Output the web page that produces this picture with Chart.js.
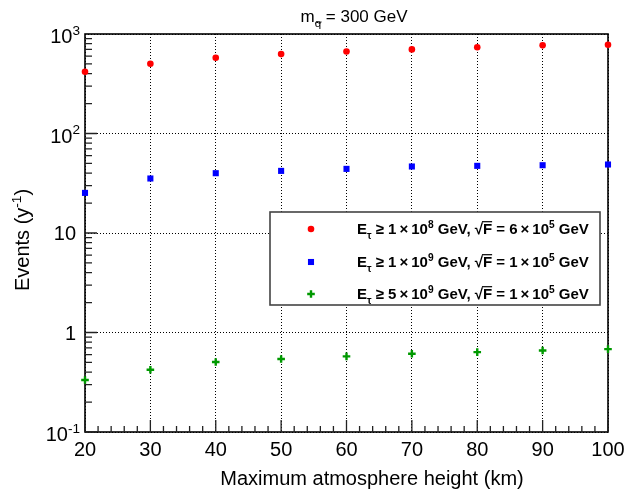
<!DOCTYPE html>
<html>
<head>
<meta charset="utf-8">
<script src="https://cdn.jsdelivr.net/npm/chart.js@4"></script>
<style>
  body { margin: 0; background: #fff; }
  canvas { display: block; }
</style>
</head>
<body>
<canvas id="myChart" width="626" height="491"></canvas>
<script>
    // maximum atmosphere height (km)
    const heights = [20, 30, 40, 50, 60, 70, 80, 90, 100];

    // events per year for each threshold
    const evtsE8 = [418, 502, 577, 628, 668, 700, 735, 769, 780];
    const evtsE9 = [25.3, 35.3, 39.9, 42.1, 44.1, 46.6, 47.3, 48.0, 48.8];
    const evts5E9 = [0.333, 0.423, 0.505, 0.541, 0.575, 0.611, 0.635, 0.660, 0.681];

    const xTicks = [20, 30, 40, 50, 60, 70, 80, 90, 100];
    // [value, mantissa text, exponent text]
    const yTicks = [[0.1, '10', '-1'], [1, '1', ''], [10, '10', ''], [100, '10', '2'], [1000, '10', '3']];

    const FONT = '"Liberation Sans", Arial, sans-serif';

    const series = [
        { label: 'E8', data: evtsE8, color: '#ff0000', style: 'circle', radius: 3.3, bw: 0 },
        { label: 'E9', data: evtsE9, color: '#0000ff', style: 'rect', radius: 4.3, bw: 0 },
        { label: '5E9', data: evts5E9, color: '#009900', style: 'cross', radius: 3.8, bw: 2.4 }
    ];

    const legendRows = [
        [['E', ''], ['\u03c4', 'sub'], [' \u2265 1\u2009\u00d7\u200910', ''], ['8', 'sup'], [' GeV, ', ''], ['F', 'root'], [' = 6\u2009\u00d7\u200910', ''], ['5', 'sup'], [' GeV', '']],
        [['E', ''], ['\u03c4', 'sub'], [' \u2265 1\u2009\u00d7\u200910', ''], ['9', 'sup'], [' GeV, ', ''], ['F', 'root'], [' = 1\u2009\u00d7\u200910', ''], ['5', 'sup'], [' GeV', '']],
        [['E', ''], ['\u03c4', 'sub'], [' \u2265 5\u2009\u00d7\u200910', ''], ['9', 'sup'], [' GeV, ', ''], ['F', 'root'], [' = 1\u2009\u00d7\u200910', ''], ['5', 'sup'], [' GeV', '']]
    ];

    // draw a run of text pieces with sub/superscripts; returns total width
    function richText(ctx, parts, x, y, size, weight, dryRun) {
        let cx = x;
        parts.forEach(([t, mode]) => {
            let fs = size, dy = 0;
            if (mode === 'sub') { fs = size * 0.68; dy = size * 0.3; }
            if (mode === 'sup') { fs = size * 0.68; dy = -size * 0.42; }
            ctx.font = `${weight} ${fs}px ${FONT}`;
            if (mode === 'root') {
                const rw = ctx.measureText('\u221a').width;
                const fw = ctx.measureText(t).width;
                if (!dryRun) {
                    ctx.fillText('\u221a', cx, y);
                    ctx.fillText(t, cx + rw, y);
                    ctx.save();
                    ctx.lineWidth = 1.2;
                    ctx.strokeStyle = ctx.fillStyle;
                    ctx.beginPath();
                    ctx.moveTo(cx + rw - 1, y - size * 0.82);
                    ctx.lineTo(cx + rw + fw, y - size * 0.82);
                    ctx.stroke();
                    ctx.restore();
                }
                cx += rw + fw;
                return;
            }
            if (!dryRun) ctx.fillText(t, cx, y + dy);
            cx += ctx.measureText(t).width;
        });
        return cx - x;
    }

    const framePlugin = {
        id: 'frame',
        beforeDatasetsDraw(chart) {
            const { ctx, chartArea: a } = chart;
            ctx.save();
            ctx.strokeStyle = '#000';
            ctx.lineWidth = 1.6;
            ctx.strokeRect(a.left, a.top, a.right - a.left, a.bottom - a.top);

            // tick marks on the left and bottom axes
            const ys = chart.scales.y;
            const xs = chart.scales.x;
            ctx.lineWidth = 1.3;
            ctx.strokeStyle = '#222';
            ctx.beginPath();
            for (let e = -1; e < 3; e++) {
                for (let m = 1; m <= 9; m++) {
                    const v = m * Math.pow(10, e);
                    const py = ys.getPixelForValue(v);
                    const len = m === 1 ? 12 : 7;
                    ctx.moveTo(a.left, py);
                    ctx.lineTo(a.left + len, py);
                }
            }
            for (let v = 20; v <= 100; v += 2) {
                const px = xs.getPixelForValue(v);
                const len = v % 10 === 0 ? 12 : 6;
                ctx.moveTo(px, a.bottom);
                ctx.lineTo(px, a.bottom - len);
            }
            ctx.stroke();
            ctx.restore();
        },
        afterDraw(chart) {
            const { ctx } = chart;
            const ys = chart.scales.y;
            const xs = chart.scales.x;
            ctx.save();
            ctx.fillStyle = '#000';
            ctx.strokeStyle = '#000';
            ctx.textBaseline = 'alphabetic';

            // y tick labels
            yTicks.forEach(([v, base, exp]) => {
                const py = ys.getPixelForValue(v);
                const parts = exp ? [[base, ''], [exp, 'sup']] : [[base, '']];
                const w = richText(ctx, parts, 0, 0, 20, 'normal', true);
                const right = exp ? 80 : 76;
                richText(ctx, parts, right - w, py + 7 + (exp ? 2 : 0), 20, 'normal', false);
            });

            // x tick labels
            ctx.font = `20px ${FONT}`;
            ctx.textAlign = 'center';
            xTicks.forEach(v => {
                ctx.fillText(String(v), xs.getPixelForValue(v), 456);
            });

            // axis titles
            ctx.fillText('Maximum atmosphere height (km)', 372, 485);
            ctx.save();
            ctx.translate(29, 240);
            ctx.rotate(-Math.PI / 2);
            ctx.textAlign = 'left';
            const yt = [['Events (y', ''], ['-1', 'sup'], [')', '']];
            const ytw = richText(ctx, yt, 0, 0, 20, 'normal', true);
            richText(ctx, yt, -ytw / 2, 0, 20, 'normal', false);
            ctx.restore();

            // title: m with squark subscript
            ctx.textAlign = 'left';
            const tp = [['m', ''], ['q', 'sub'], [' = 300 GeV', '']];
            const tw = richText(ctx, tp, 0, 0, 17, 'normal', true);
            const tx = 354 - tw / 2;
            richText(ctx, tp, tx, 22, 17, 'normal', false);
            ctx.font = `17px ${FONT}`;
            const mw = ctx.measureText('m').width;
            ctx.font = `11.5px ${FONT}`;
            const qw = ctx.measureText('q').width;
            ctx.beginPath();
            ctx.lineWidth = 1;
            const tlx = tx + mw + 0.5, tly = 22.5;
            ctx.moveTo(tlx, tly + 1);
            ctx.quadraticCurveTo(tlx + qw * 0.25, tly - 1.2, tlx + qw * 0.5, tly + 0.3);
            ctx.quadraticCurveTo(tlx + qw * 0.75, tly + 1.7, tlx + qw, tly - 0.5);
            ctx.stroke();

            // legend box
            const bx = 270, by = 212, bw = 330, bh = 93;
            ctx.fillStyle = '#fff';
            ctx.fillRect(bx, by, bw, bh);
            ctx.strokeStyle = '#444';
            ctx.lineWidth = 1.6;
            ctx.strokeRect(bx, by, bw, bh);
            const rowY = [229, 262, 294];
            series.forEach((s, i) => {
                ctx.fillStyle = s.color;
                ctx.strokeStyle = s.color;
                ctx.lineWidth = s.bw;
                Chart.helpers.drawPoint(ctx, { pointStyle: s.style, radius: s.radius, borderWidth: s.bw, rotation: 0 }, 311, rowY[i]);
                ctx.fillStyle = '#000';
                ctx.strokeStyle = '#000';
                richText(ctx, legendRows[i], 357, rowY[i] + 5, 15, 'bold', false);
            });
            ctx.restore();
        }
    };

    const ctx = document.getElementById('myChart').getContext('2d');
    const chart = new Chart(ctx, {
        type: 'scatter',
        data: {
            datasets: series.map(s => ({
                label: s.label,
                data: heights.map((h, i) => ({ x: h, y: s.data[i] })),
                pointStyle: s.style,
                pointRadius: s.radius,
                pointBackgroundColor: s.color,
                pointBorderColor: s.color,
                pointBorderWidth: s.bw,
                clip: false
            }))
        },
        options: {
            responsive: false,
            animation: false,
            layout: { padding: { left: 85, right: 18, top: 34, bottom: 59 } },
            plugins: { legend: { display: false }, tooltip: { enabled: false } },
            scales: {
                x: {
                    type: 'linear',
                    min: 20,
                    max: 100,
                    ticks: { display: false, stepSize: 10 },
                    grid: { color: '#000', lineWidth: 1, drawTicks: false },
                    border: { display: false, dash: [1, 2] }
                },
                y: {
                    type: 'logarithmic',
                    min: 0.1,
                    max: 1000,
                    afterBuildTicks: scale => {
                        scale.ticks = yTicks.map(t => ({ value: t[0] }));
                    },
                    ticks: { display: false },
                    grid: { color: '#000', lineWidth: 1, drawTicks: false },
                    border: { display: false, dash: [1, 2] }
                }
            }
        },
        plugins: [framePlugin]
    });
</script>
</body>
</html>
